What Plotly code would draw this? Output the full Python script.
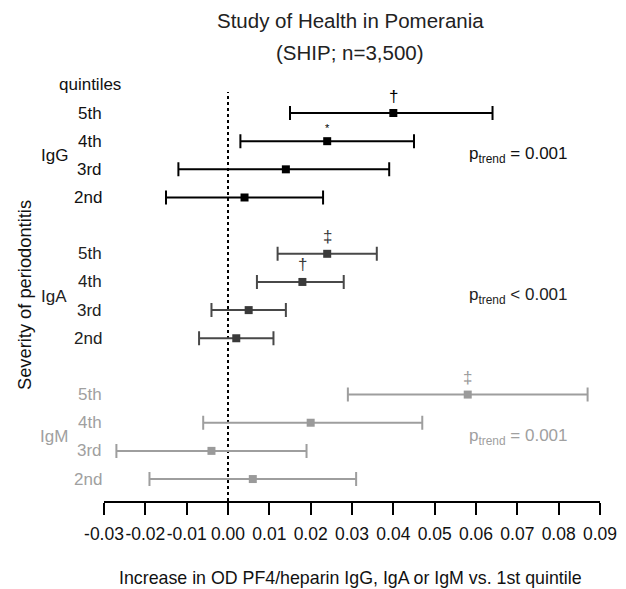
import plotly.graph_objects as go

# ---- data ----
groups = ["IgG", "IgA", "IgM"]
quintiles = ["5th", "4th", "3rd", "2nd"]
igg_est = [0.040, 0.024, 0.014, 0.004]
igg_lo = [0.015, 0.003, -0.012, -0.015]
igg_hi = [0.064, 0.045, 0.039, 0.023]
iga_est = [0.024, 0.018, 0.005, 0.002]
iga_lo = [0.012, 0.007, -0.004, -0.007]
iga_hi = [0.036, 0.028, 0.014, 0.011]
igm_est = [0.058, 0.020, -0.004, 0.006]
igm_lo = [0.029, -0.006, -0.027, -0.019]
igm_hi = [0.087, 0.047, 0.019, 0.031]
igg_sig = ["†", "*", "", ""]
iga_sig = ["‡", "†", "", ""]
igm_sig = ["‡", "", "", ""]
p_trend = ["p<sub>trend</sub> = 0.001", "p<sub>trend</sub> < 0.001", "p<sub>trend</sub> = 0.001"]
x_ticks = [-0.03, -0.02, -0.01, 0.00, 0.01, 0.02, 0.03, 0.04, 0.05, 0.06, 0.07, 0.08, 0.09]
x_tick_labels = ["-0.03", "-0.02", "-0.01", "0.00", "0.01", "0.02", "0.03",
                 "0.04", "0.05", "0.06", "0.07", "0.08", "0.09"]

# ---- styles ----
FONT = "Liberation Sans, Arial, sans-serif"
W, H = 626, 589
ML, MR, MT, MB = 104, 26, 70, 88
PW, PH = W - ML - MR, H - MT - MB
line_colors = ["#000000", "#484848", "#9e9e9e"]
marker_colors = ["#000000", "#3a3a3a", "#9a9a9a"]
label_colors = ["#111111", "#222222", "#a0a0a0"]
Y_BOTTOM, Y_TOP = -13.78, 1.528

series = [
    (igg_est, igg_lo, igg_hi, igg_sig),
    (iga_est, iga_lo, iga_hi, iga_sig),
    (igm_est, igm_lo, igm_hi, igm_sig),
]

def ypos(g, i):
    return -(g * 5 + i)

def py(pix):
    # pixel y from top -> paper y
    return (H - MB - pix) / PH

def px(pix):
    return (pix - ML) / PW

fig = go.Figure()
annotations = []

for g, (est, lo, hi, sig) in enumerate(series):
    ys = [ypos(g, i) for i in range(len(est))]
    fig.add_trace(go.Scatter(
        x=est, y=ys, mode="markers",
        marker=dict(symbol="square", size=8, color=marker_colors[g]),
        error_x=dict(type="data", symmetric=False,
                     array=[h - e for h, e in zip(hi, est)],
                     arrayminus=[e - l for e, l in zip(est, lo)],
                     color=line_colors[g], thickness=2, width=7),
        showlegend=False, hoverinfo="skip",
    ))
    for i, q in enumerate(quintiles):
        annotations.append(dict(
            x=0, xref="paper", y=ys[i], yref="y", text=q, showarrow=False,
            xanchor="right", yanchor="middle",
            font=dict(family=FONT, size=17, color=label_colors[g])))
        if sig[i]:
            annotations.append(dict(
                x=est[i], xref="x", y=ys[i], yref="y", text=sig[i], showarrow=False,
                xanchor="center", yanchor="middle", yshift=17 if sig[i] != "*" else 13,
                font=dict(family=FONT, size=17 if sig[i] != "*" else 11,
                          color=marker_colors[g])))
    mid = (ys[1] + ys[2]) / 2
    annotations.append(dict(
        x=px(54), xref="paper", y=mid, yref="y", text=groups[g], showarrow=False,
        xanchor="center", yanchor="middle",
        font=dict(family=FONT, size=17, color=label_colors[g])))
    annotations.append(dict(
        x=0.0578, xref="x", y=mid, yref="y", text=p_trend[g], showarrow=False,
        xanchor="left", yanchor="middle",
        font=dict(family=FONT, size=17, color=label_colors[g])))

annotations.append(dict(
    x=px(90), xref="paper", y=1, yref="y", text="quintiles", showarrow=False,
    xanchor="center", yanchor="middle", font=dict(family=FONT, size=17, color="#111111")))
annotations.append(dict(
    x=px(350), xref="paper", y=py(20), yref="paper", text="Study of Health in Pomerania",
    showarrow=False, xanchor="center", yanchor="middle",
    font=dict(family=FONT, size=20.5, color="#222222")))
annotations.append(dict(
    x=px(350), xref="paper", y=py(52), yref="paper", text="(SHIP; n=3,500)",
    showarrow=False, xanchor="center", yanchor="middle",
    font=dict(family=FONT, size=20.5, color="#222222")))
annotations.append(dict(
    x=px(350), xref="paper", y=py(578), yref="paper",
    text="Increase in OD PF4/heparin IgG, IgA or IgM vs. 1st quintile",
    showarrow=False, xanchor="center", yanchor="middle",
    font=dict(family=FONT, size=17.8, color="#111111")))
annotations.append(dict(
    x=px(24), xref="paper", y=py(295), yref="paper", text="Severity of periodontitis",
    showarrow=False, xanchor="center", yanchor="middle", textangle=-90,
    font=dict(family=FONT, size=18.3, color="#111111")))

fig.add_shape(type="line", x0=0, x1=0, xref="x", y0=Y_BOTTOM, y1=0.75, yref="y",
              line=dict(color="#000000", width=2, dash="dot"), layer="below")

fig.update_layout(
    width=W, height=H,
    margin=dict(l=ML, r=MR, t=MT, b=MB, pad=0, autoexpand=False),
    paper_bgcolor="white", plot_bgcolor="white",
    font=dict(family=FONT, size=17, color="#111111"),
    annotations=annotations,
    xaxis=dict(range=[x_ticks[0], x_ticks[-1]], tickvals=x_ticks, ticktext=x_tick_labels,
               showgrid=False, zeroline=False, showline=True, linecolor="#000000",
               linewidth=2, ticks="outside", ticklen=12, tickwidth=2, tickcolor="#000000",
               tickangle=0, automargin=False,
               tickfont=dict(family=FONT, size=17.5, color="#111111"),
               ticklabelstandoff=4, fixedrange=True),
    yaxis=dict(range=[Y_BOTTOM, Y_TOP], visible=False, showgrid=False, zeroline=False,
               automargin=False, fixedrange=True),
)

fig.write_html(
    "out.html",
    config={"displayModeBar": False},
    post_script="document.body.style.margin='0';document.body.style.padding='0';"
                "document.body.style.overflow='hidden';",
)
